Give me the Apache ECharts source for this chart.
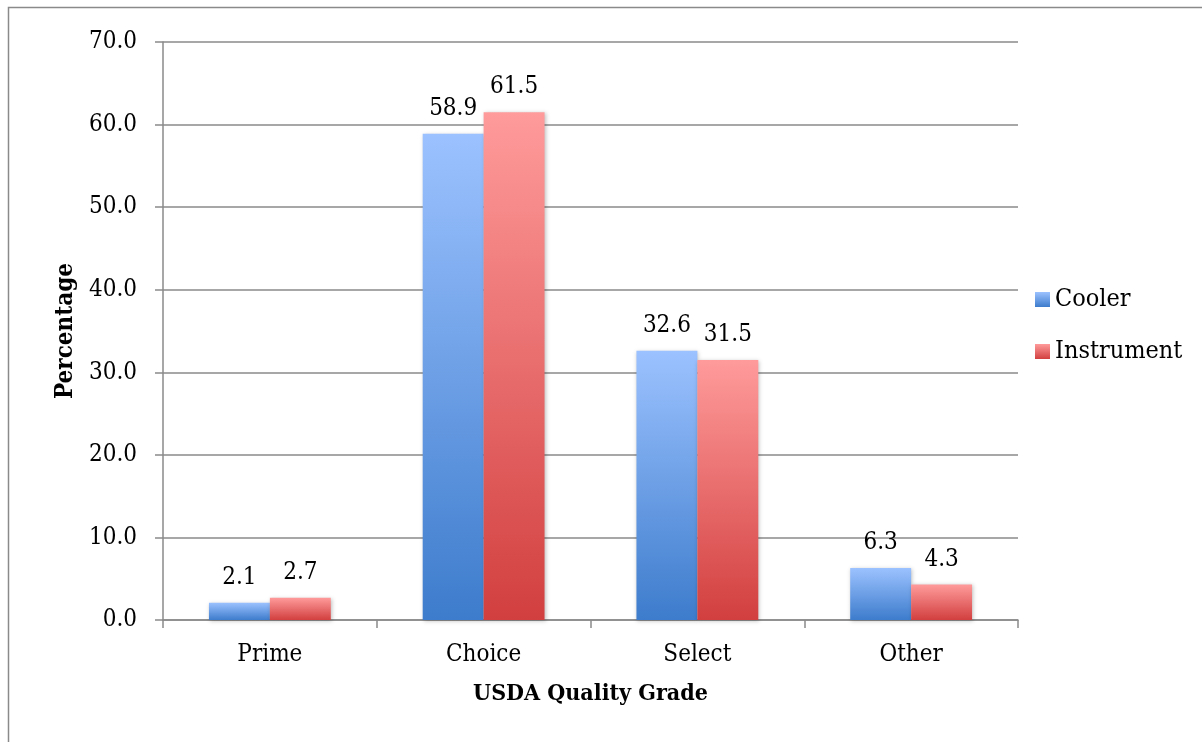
<!DOCTYPE html>
<html>
<head>
<meta charset="utf-8">
<script src="https://cdn.jsdelivr.net/npm/echarts@6/dist/echarts.min.js"></script>
<style>
  html, body { margin: 0; padding: 0; background: #fff; }
  #chart { width: 1202px; height: 742px; }
</style>
</head>
<body>
<div id="chart"></div>
<script>
// USDA quality grade distribution, cooler grading vs. instrument grading
const grades = ['Prime', 'Choice', 'Select', 'Other'];
const coolerPct = [2.1, 58.9, 32.6, 6.3];
const instrumentPct = [2.7, 61.5, 31.5, 4.3];
const yTicks = { min: 0, max: 70, step: 10 };

const FONT = '"DejaVu Serif Condensed", "DejaVu Serif", serif';
const GRID_GRAY = '#8a8a8a';
const TEXT_SIZE = 24;

function vGrad(top, bottom) {
  return new echarts.graphic.LinearGradient(0, 0, 0, 1, [
    { offset: 0, color: top },
    { offset: 1, color: bottom }
  ]);
}

const blueFill = vGrad('#9cc2ff', '#3d7ccc');
const redFill = vGrad('#ff9b9b', '#d23f3f');

const labelStyle = {
  show: true,
  position: 'top',
  distance: 13,
  fontFamily: FONT,
  fontSize: TEXT_SIZE,
  color: '#000',
  formatter: p => p.value.toFixed(1)
};

const barShadow = {
  shadowBlur: 4,
  shadowColor: 'rgba(0,0,0,0.25)',
  shadowOffsetX: 1,
  shadowOffsetY: 1
};

const chart = echarts.init(document.getElementById('chart'), null, { renderer: 'canvas' });

chart.setOption({
  animation: false,
  backgroundColor: '#fff',
  graphic: [{
    type: 'rect',
    shape: { x: 8.5, y: 7.5, width: 1400, height: 900 },
    style: { fill: 'none', stroke: GRID_GRAY, lineWidth: 1.5 },
    silent: true,
    z: -10
  }],
  grid: { left: 163, right: 184, top: 42, bottom: 122, containLabel: false },
  legend: {
    orient: 'vertical',
    left: 1030,
    top: 282,
    itemWidth: 15,
    itemHeight: 15,
    itemGap: 27,
    icon: 'rect',
    textStyle: { fontFamily: FONT, fontSize: 25, color: '#000', padding: [0, 0, 0, 0] },
    data: ['Cooler', 'Instrument']
  },
  xAxis: {
    type: 'category',
    data: grades,
    name: 'USDA Quality Grade',
    nameLocation: 'middle',
    nameGap: 63,
    nameTextStyle: { fontFamily: FONT, fontSize: 23, fontWeight: 'bold', color: '#000' },
    axisLine: { lineStyle: { color: GRID_GRAY, width: 1.5 } },
    axisTick: { show: true, length: 8, alignWithLabel: false, lineStyle: { color: GRID_GRAY, width: 1.5 } },
    axisLabel: { fontFamily: FONT, fontSize: TEXT_SIZE, color: '#000', margin: 23 },
    splitLine: { show: false }
  },
  yAxis: {
    type: 'value',
    min: yTicks.min,
    max: yTicks.max,
    interval: yTicks.step,
    name: 'Percentage',
    nameLocation: 'middle',
    nameGap: 83,
    nameTextStyle: { fontFamily: FONT, fontSize: 24, fontWeight: 'bold', color: '#000' },
    axisLine: { show: true, lineStyle: { color: GRID_GRAY, width: 1.5 } },
    axisTick: { show: true, length: 8, lineStyle: { color: GRID_GRAY, width: 1.5 } },
    axisLabel: { fontFamily: FONT, fontSize: TEXT_SIZE, color: '#000', margin: 26, formatter: v => v.toFixed(1) },
    splitLine: { show: true, lineStyle: { color: GRID_GRAY, width: 1.5 } }
  },
  series: [
    {
      name: 'Cooler',
      type: 'bar',
      data: coolerPct,
      barGap: '0%',
      barCategoryGap: '43%',
      itemStyle: Object.assign({ color: blueFill }, barShadow),
      label: labelStyle
    },
    {
      name: 'Instrument',
      type: 'bar',
      data: instrumentPct,
      barGap: '0%',
      barCategoryGap: '43%',
      itemStyle: Object.assign({ color: redFill }, barShadow),
      label: labelStyle
    }
  ]
});
</script>
</body>
</html>
